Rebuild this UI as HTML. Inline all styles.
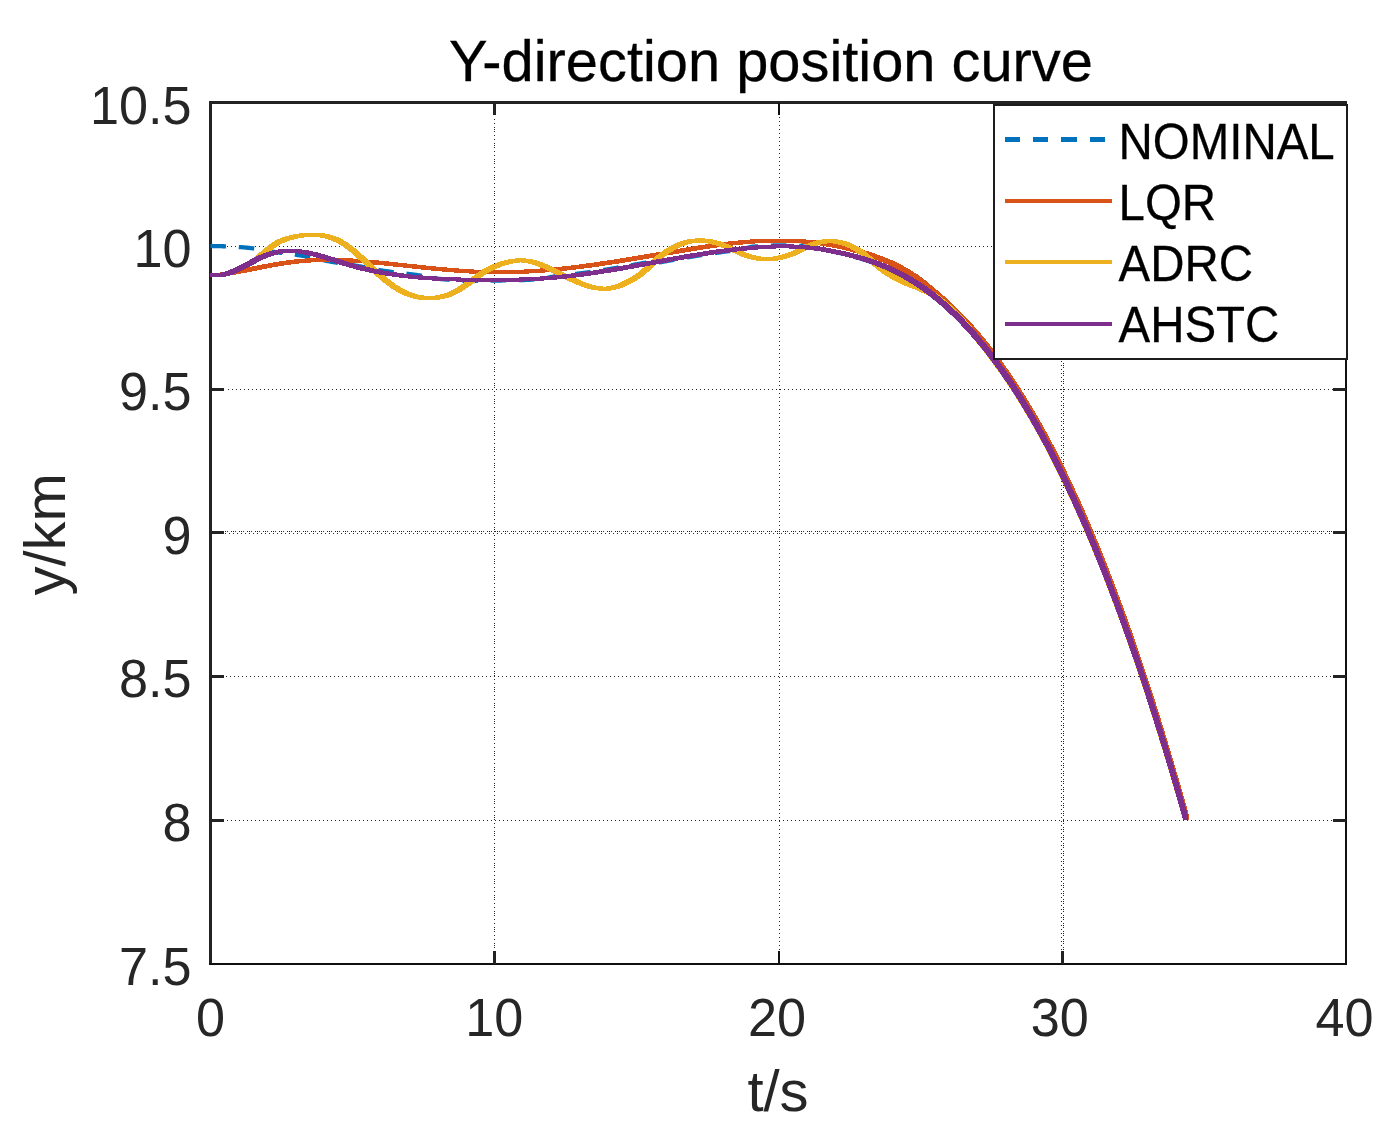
<!DOCTYPE html>
<html lang="en"><head><meta charset="utf-8"><title>Y-direction position curve</title>
<style>
html,body{margin:0;padding:0;background:#fff;}
body{width:1389px;height:1137px;overflow:hidden;}
svg{display:block;}
text{font-family:"Liberation Sans",Arial,Helvetica,sans-serif;}
.tk{fill:#262626;font-size:53px;}
.lb{fill:#262626;font-size:58px;}
.tt{fill:#000;font-size:58px;stroke:#000;stroke-width:0.3px;}
.lg{fill:#000;font-size:47.7px;stroke:#000;stroke-width:0.25px;}
.gd{stroke:#262626;stroke-width:1;fill:none;shape-rendering:crispEdges;}
</style></head><body>
<svg width="1389" height="1137" viewBox="0 0 1389 1137">
<rect x="0" y="0" width="1389" height="1137" fill="#fff"/>
<defs><clipPath id="ax"><rect x="210" y="101" width="1137" height="864"/></clipPath></defs>
<g><line class="gd" x1="227" y1="246.5" x2="1345" y2="246.5" stroke-dasharray="1 3"/><line class="gd" x1="228" y1="389.5" x2="1345" y2="389.5" stroke-dasharray="1 3"/><line class="gd" x1="226" y1="676.5" x2="1345" y2="676.5" stroke-dasharray="1 3"/><line class="gd" x1="227" y1="820.5" x2="1345" y2="820.5" stroke-dasharray="1 3"/><line class="gd" x1="223" y1="531.5" x2="1345" y2="531.5" stroke-dasharray="1 1 1 1 1 3"/><line class="gd" x1="225" y1="533.5" x2="1345" y2="533.5" stroke-dasharray="1 3"/><line class="gd" x1="494.5" y1="119" x2="494.5" y2="951" stroke-dasharray="1 3"/><line class="gd" x1="494.5" y1="129" x2="494.5" y2="951" stroke-dasharray="1 15"/><line class="gd" x1="779.5" y1="117" x2="779.5" y2="951" stroke-dasharray="1 3"/><line class="gd" x1="1061.5" y1="361" x2="1061.5" y2="951" stroke-dasharray="1 3"/><line class="gd" x1="1063.5" y1="363" x2="1063.5" y2="951" stroke-dasharray="1 1 1 1 1 3"/></g>
<g shape-rendering="crispEdges"><rect x="209" y="101" width="3" height="864" fill="#232323"/><rect x="209" y="101" width="1138" height="3" fill="#232323"/><rect x="1345" y="101" width="2" height="864" fill="#101010"/><rect x="209" y="963" width="1138" height="2" fill="#101010"/><rect x="493" y="951" width="3" height="13" fill="#232323"/><rect x="493" y="103" width="3" height="12" fill="#232323"/><rect x="778" y="951" width="2" height="13" fill="#101010"/><rect x="778" y="103" width="2" height="12" fill="#101010"/><rect x="1061" y="951" width="3" height="13" fill="#232323"/><rect x="1061" y="103" width="3" height="12" fill="#232323"/><rect x="211" y="245" width="13" height="3" fill="#232323"/><rect x="1333" y="245" width="13" height="3" fill="#232323"/><rect x="211" y="388" width="13" height="3" fill="#232323"/><rect x="1333" y="388" width="13" height="3" fill="#232323"/><rect x="211" y="531" width="13" height="3" fill="#232323"/><rect x="1333" y="531" width="13" height="3" fill="#232323"/><rect x="211" y="675" width="13" height="3" fill="#232323"/><rect x="1333" y="675" width="13" height="3" fill="#232323"/><rect x="211" y="819" width="13" height="3" fill="#232323"/><rect x="1333" y="819" width="13" height="3" fill="#232323"/></g>
<g clip-path="url(#ax)"><path d="M210.5 246L211.5 246.01L212.5 246.01L213.5 246.03L214.5 246.04L215.5 246.06L216.5 246.08L217.5 246.1L218.5 246.12L219.5 246.14L220.5 246.17L221.5 246.2L222.5 246.23L223.5 246.26L224.5 246.28L225.5 246.32L226.5 246.35L227.5 246.39L228.5 246.43L229.5 246.47L230.5 246.52L231.5 246.57L232.5 246.62L233.5 246.68L234.5 246.74L235.5 246.8L236.5 246.87L237.5 246.94L238.5 247.01L239.5 247.08L240.5 247.15L241.5 247.23L242.5 247.31L243.5 247.39L244.5 247.47L245.5 247.56L246.5 247.64L247.5 247.74L248.5 247.84L249.5 247.96L250.5 248.08L251.5 248.2L252.5 248.34L253.5 248.48L254.5 248.62L255.5 248.78L256.5 248.93L257.5 249.09L258.5 249.25L259.5 249.42L260.5 249.59L261.5 249.76L262.5 249.93L263.5 250.11L264.5 250.28L265.5 250.45L266.5 250.63L267.5 250.8L268.5 250.97L269.5 251.14L270.5 251.3L271.5 251.47L272.5 251.62L273.5 251.78L274.5 251.93L275.5 252.07L276.5 252.21L277.5 252.35L278.5 252.49L279.5 252.62L280.5 252.75L281.5 252.88L282.5 253.01L283.5 253.14L284.5 253.27L285.5 253.4L286.5 253.52L287.5 253.65L288.5 253.78L289.5 253.91L290.5 254.04L291.5 254.17L292.5 254.3L293.5 254.44L294.5 254.57L295.5 254.71L296.5 254.86L297.5 255L298.5 255.15L299.5 255.3L300.5 255.46L301.5 255.62L302.5 255.78L303.5 255.96L304.5 256.14L305.5 256.32L306.5 256.51L307.5 256.71L308.5 256.91L309.5 257.12L310.5 257.33L311.5 257.55L312.5 257.77L313.5 257.99L314.5 258.21L315.5 258.43L316.5 258.66L317.5 258.88L318.5 259.1L319.5 259.33L320.5 259.55L321.5 259.77L322.5 259.99L323.5 260.2L324.5 260.42L325.5 260.62L326.5 260.83L327.5 261.03L328.5 261.22L329.5 261.41L330.5 261.59L331.5 261.77L332.5 261.94L333.5 262.11L334.5 262.28L335.5 262.45L336.5 262.61L337.5 262.77L338.5 262.93L339.5 263.09L340.5 263.24L341.5 263.4L342.5 263.55L343.5 263.7L344.5 263.86L345.5 264.01L346.5 264.16L347.5 264.32L348.5 264.47L349.5 264.62L350.5 264.78L351.5 264.94L352.5 265.09L353.5 265.25L354.5 265.41L355.5 265.58L356.5 265.75L357.5 265.91L358.5 266.09L359.5 266.26L360.5 266.44L361.5 266.63L362.5 266.81L363.5 267L364.5 267.2L365.5 267.39L366.5 267.59L367.5 267.78L368.5 267.98L369.5 268.18L370.5 268.38L371.5 268.58L372.5 268.77L373.5 268.97L374.5 269.16L375.5 269.36L376.5 269.54L377.5 269.73L378.5 269.91L379.5 270.09L380.5 270.27L381.5 270.44L382.5 270.61L383.5 270.77L384.5 270.92L385.5 271.07L386.5 271.22L387.5 271.36L388.5 271.5L389.5 271.63L390.5 271.76L391.5 271.89L392.5 272.01L393.5 272.14L394.5 272.26L395.5 272.38L396.5 272.49L397.5 272.61L398.5 272.72L399.5 272.84L400.5 272.96L401.5 273.07L402.5 273.19L403.5 273.3L404.5 273.42L405.5 273.54L406.5 273.66L407.5 273.78L408.5 273.9L409.5 274.03L410.5 274.16L411.5 274.29L412.5 274.43L413.5 274.57L414.5 274.71L415.5 274.86L416.5 275L417.5 275.15L418.5 275.3L419.5 275.45L420.5 275.6L421.5 275.75L422.5 275.91L423.5 276.06L424.5 276.22L425.5 276.38L426.5 276.54L427.5 276.7L428.5 276.86L429.5 277.03L430.5 277.19L431.5 277.36L432.5 277.53L433.5 277.7L434.5 277.87L435.5 278.04L436.5 278.21L437.5 278.72L438.5 278.82L439.5 278.91L440.5 279.01L441.5 279.1L442.5 279.19L443.5 279.27L444.5 279.36L445.5 279.45L446.5 279.53L447.5 279.61L448.5 279.69L449.5 279.77L450.5 279.85L451.5 279.93L452.5 280L453.5 280.08L454.5 280.15L455.5 280.22L456.5 280.29L457.5 280.36L458.5 280.43L459.5 280.5L460.5 280.56L461.5 280.63L462.5 280.69L463.5 280.76L464.5 280.82L465.5 280.88L466.5 280.94L467.5 281L468.5 281.03L469.5 281.02L470.5 281.01L471.5 281.01L472.5 281L473.5 280.99L474.5 280.98L475.5 280.97L476.5 280.96L477.5 280.94L478.5 280.93L479.5 280.92L480.5 280.9L481.5 280.89L482.5 280.87L483.5 280.86L484.5 280.84L485.5 280.83L486.5 280.81L487.5 280.79L488.5 280.77L489.5 280.75L490.5 280.73L491.5 280.71L492.5 280.69L493.5 280.66L494.5 280.64L495.5 280.62L496.5 280.59L497.5 280.56L498.5 280.54L499.5 280.51L500.5 280.49L501.5 280.48L502.5 280.47L503.5 280.46L504.5 280.45L505.5 280.44L506.5 280.43L507.5 280.42L508.5 280.4L509.5 280.38L510.5 280.37L511.5 280.35L512.5 280.33L513.5 280.31L514.5 280.28L515.5 280.26L516.5 280.24L517.5 280.21L518.5 280.18L519.5 280.16L520.5 280.13L521.5 280.09L522.5 280.06L523.5 280.03L524.5 279.99L525.5 279.95L526.5 279.92L527.5 279.88L528.5 279.84L529.5 279.79L530.5 279.73L531.5 279.64L532.5 279.55L533.5 279.46L534.5 279.37L535.5 279.28L536.5 279.19L537.5 279.09L538.5 278.99L539.5 278.89L540.5 278.79L541.5 278.69L542.5 278.59L543.5 278.48L544.5 278.37L545.5 278.22L546.5 278.01L547.5 277.81L548.5 277.6L549.5 277.4L550.5 277.19L551.5 276.97L552.5 276.76L553.5 276.54L554.5 276.33L555.5 276.17L556.5 276.08L557.5 275.99L558.5 275.89L559.5 275.79L560.5 275.7L561.5 275.59L562.5 275.49L563.5 275.39L564.5 275.28L565.5 275.17L566.5 275.06L567.5 274.95L568.5 274.84L569.5 274.73L570.5 274.61L571.5 274.49L572.5 274.37L573.5 274.25L574.5 274.13L575.5 274L576.5 273.88L577.5 273.75L578.5 273.62L579.5 273.49L580.5 273.36L581.5 273.23L582.5 273.09L583.5 272.96L584.5 272.82L585.5 272.68L586.5 272.54L587.5 272.4L588.5 272.26L589.5 272.12L590.5 271.97L591.5 271.82L592.5 271.68L593.5 271.53L594.5 271.38L595.5 271.23L596.5 271.08L597.5 270.92L598.5 270.77L599.5 270.61L600.5 270.46L601.5 270.3L602.5 270.14L603.5 269.98L604.5 269.82L605.5 269.66L606.5 269.5L607.5 269.34L608.5 269.17L609.5 269.01L610.5 268.84L611.5 268.67L612.5 268.51L613.5 268.34L614.5 268.17L615.5 268L616.5 267.83L617.5 267.66L618.5 267.49L619.5 267.31L620.5 267.14L621.5 266.97L622.5 266.79L623.5 266.62L624.5 266.44L625.5 266.27L626.5 266.09L627.5 265.91L628.5 265.73L629.5 265.56L630.5 265.38L631.5 265.2L632.5 265.02L633.5 264.84L634.5 264.66L635.5 264.48L636.5 264.3L637.5 264.12L638.5 263.93L639.5 263.75L640.5 263.57L641.5 263.39L642.5 263.21L643.5 263.02L644.5 262.84L645.5 262.66L646.5 262.47L647.5 262.29L648.5 262.11L649.5 261.92L650.5 261.85L651.5 261.9L652.5 261.95L653.5 261.99L654.5 262.04L655.5 262.09L656.5 262.13L657.5 262.18L658.5 262.23L659.5 262.27L660.5 262.2L661.5 262.02L662.5 261.84L663.5 261.66L664.5 261.47L665.5 261.29L666.5 261.11L667.5 260.93L668.5 260.75L669.5 260.57L670.5 260.39L671.5 260.21L672.5 260.03L673.5 259.85L674.5 259.67L675.5 259.49L676.5 259.31L677.5 259.13L678.5 258.96L679.5 258.78L680.5 258.61L681.5 258.43L682.5 258.26L683.5 258.08L684.5 257.91L685.5 257.73L686.5 257.56L687.5 257.39L688.5 257.22L689.5 257.05L690.5 256.88L691.5 256.71L692.5 256.55L693.5 256.38L694.5 256.21L695.5 256.05L696.5 255.88L697.5 255.72L698.5 255.56L699.5 255.4L700.5 255.23L701.5 255.08L702.5 254.92L703.5 254.76L704.5 254.6L705.5 254.45L706.5 254.29L707.5 254.14L708.5 253.99L709.5 253.84L710.5 253.69L711.5 253.54L712.5 253.39L713.5 253.24L714.5 253.1L715.5 252.95L716.5 252.81L717.5 252.67L718.5 252.53L719.5 252.39L720.5 252.25L721.5 252.12L722.5 251.98L723.5 251.85L724.5 251.72L725.5 251.59L726.5 251.46L727.5 251.33L728.5 251.21L729.5 251.08L730.5 250.96L731.5 250.84L732.5 250.72L733.5 250.6L734.5 250.49L735.5 250.37L736.5 250.26L737.5 250.15L738.5 250.04L739.5 249.93L740.5 249.74L741.5 249.47L742.5 249.2L743.5 248.93L744.5 248.67L745.5 248.41L746.5 248.14L747.5 247.88L748.5 247.63L749.5 247.37L750.5 247.12L751.5 246.87L752.5 246.7L753.5 246.62L754.5 246.54L755.5 246.46L756.5 246.39L757.5 246.32L758.5 246.25L759.5 246.18L760.5 246.12L761.5 246.05L762.5 245.99L763.5 245.94L764.5 245.88L765.5 245.83L766.5 245.78L767.5 245.73L768.5 245.69L769.5 245.65L770.5 245.61L771.5 245.57L772.5 245.54L773.5 245.51L774.5 245.48L775.5 245.46L776.5 245.43L777.5 245.42L778.5 245.4L779.5 245.39L780.5 245.38L781.5 245.37L782.5 245.37L783.5 245.37L784.5 245.38L785.5 245.39L786.5 245.4L787.5 245.41L788.5 245.43L789.5 245.45L790.5 245.48L791.5 245.5L792.5 245.54L793.5 245.57L794.5 245.61L795.5 245.65L796.5 245.7L797.5 245.75L798.5 245.81L799.5 245.87L800.5 245.96L801.5 246.1L802.5 246.23L803.5 246.38L804.5 246.52L805.5 246.67L806.5 246.82L807.5 246.98L808.5 247.14L809.5 247.31L810.5 247.48L811.5 247.66L812.5 247.84L813.5 248.02L814.5 248.21L815.5 248.38L816.5 248.52L817.5 248.67L818.5 248.82L819.5 248.98L820.5 249.14L821.5 249.3L822.5 249.47L823.5 249.65L824.5 249.82L825.5 250.01L826.5 250.19L827.5 250.38L828.5 250.58L829.5 250.77L830.5 250.98L831.5 251.18L832.5 251.39L833.5 251.6L834.5 251.82L835.5 252.04L836.5 252.26L837.5 252.49L838.5 252.72L839.5 252.95L840.5 253.19L841.5 253.43L842.5 253.67L843.5 253.92L844.5 254.17L845.5 254.42L846.5 254.67L847.5 254.93L848.5 255.19L849.5 255.45L850.5 255.72L851.5 255.98L852.5 256.25L853.5 256.53L854.5 256.8L855.5 257.08L856.5 257.36L857.5 257.65L858.5 257.94L859.5 258.23L860.5 258.52L861.5 258.82L862.5 259.13L863.5 259.44L864.5 259.75L865.5 260.06L866.5 260.38L867.5 260.71L868.5 261.04L869.5 261.38L870.5 261.72L871.5 262.06L872.5 262.42L873.5 262.77L874.5 263.14L875.5 263.5L876.5 263.88L877.5 264.26L878.5 264.65L879.5 265.04L880.5 265.44L881.5 265.85L882.5 266.26L883.5 266.68L884.5 267.11L885.5 267.54L886.5 267.99L887.5 268.43L888.5 268.89L889.5 269.35L890.5 269.82L891.5 270.3L892.5 270.78L893.5 271.27L894.5 271.76L895.5 272.27L896.5 272.78L897.5 273.3L898.5 273.82L899.5 274.36L900.5 274.89L901.5 275.43L902.5 275.97L903.5 276.53L904.5 277.08L905.5 277.65L906.5 278.23L907.5 278.81L908.5 279.4L909.5 279.99L910.5 280.6L911.5 281.21L912.5 281.83L913.5 282.45L914.5 283.09L915.5 283.73L916.5 284.38L917.5 285.04L918.5 285.7L919.5 286.37L920.5 287.06L921.5 287.74L922.5 288.44L923.5 289.14L924.5 289.86L925.5 290.58L926.5 291.31L927.5 292.04L928.5 292.79L929.5 293.54L930.5 294.3L931.5 295.07L932.5 295.84L933.5 296.63L934.5 297.42L935.5 298.22L936.5 299.03L937.5 299.85L938.5 300.68L939.5 301.51L940.5 302.35L941.5 303.2L942.5 304.06L943.5 304.93L944.5 305.81L945.5 306.69L946.5 307.59L947.5 308.49L948.5 309.4L949.5 310.32L950.5 311.25L951.5 312.18L952.5 313.13L953.5 314.08L954.5 315.05L955.5 316.02L956.5 317L957.5 317.99L958.5 318.98L959.5 319.99L960.5 321.01L961.5 322.03L962.5 323.07L963.5 324.11L964.5 325.16L965.5 326.22L966.5 327.29L967.5 328.37L968.5 329.46L969.5 330.56L970.5 331.66L971.5 332.78L972.5 333.91L973.5 335.04L974.5 336.18L975.5 337.34L976.5 338.5L977.5 339.67L978.5 340.85L979.5 342.04L980.5 343.25L981.5 344.46L982.5 345.67L983.5 346.9L984.5 348.14L985.5 349.39L986.5 350.65L987.5 351.92L988.5 353.19L989.5 354.48L990.5 355.78L991.5 357.08L992.5 358.4L993.5 359.73L994.5 361.06L995.5 362.41L996.5 363.77L997.5 365.13L998.5 366.51L999.5 367.89L1000.5 369.29L1001.5 370.7L1002.5 372.11L1003.5 373.54L1004.5 374.98L1005.5 376.42L1006.5 377.88L1007.5 379.35L1008.5 380.82L1009.5 382.31L1010.5 383.81L1011.5 385.32L1012.5 386.84L1013.5 388.36L1014.5 389.9L1015.5 391.45L1016.5 393.01L1017.5 394.58L1018.5 396.16L1019.5 397.76L1020.5 399.36L1021.5 400.97L1022.5 402.59L1023.5 404.22L1024.5 405.87L1025.5 407.52L1026.5 409.19L1027.5 410.86L1028.5 412.55L1029.5 414.24L1030.5 415.95L1031.5 417.67L1032.5 419.39L1033.5 421.13L1034.5 422.88L1035.5 424.64L1036.5 426.41L1037.5 428.19L1038.5 429.98L1039.5 431.79L1040.5 433.6L1041.5 435.43L1042.5 437.26L1043.5 439.11L1044.5 440.96L1045.5 442.83L1046.5 444.71L1047.5 446.6L1048.5 448.5L1049.5 450.41L1050.5 452.33L1051.5 454.26L1052.5 456.21L1053.5 458.16L1054.5 460.13L1055.5 462.1L1056.5 464.09L1057.5 466.09L1058.5 468.1L1059.5 470.12L1060.5 472.15L1061.5 474.2L1062.5 476.25L1063.5 478.32L1064.5 480.39L1065.5 482.48L1066.5 484.58L1067.5 486.69L1068.5 488.81L1069.5 490.94L1070.5 493.09L1071.5 495.24L1072.5 497.41L1073.5 499.59L1074.5 501.77L1075.5 503.97L1076.5 506.19L1077.5 508.41L1078.5 510.64L1079.5 512.89L1080.5 515.15L1081.5 517.41L1082.5 519.69L1083.5 521.99L1084.5 524.29L1085.5 526.6L1086.5 528.93L1087.5 531.27L1088.5 533.61L1089.5 535.97L1090.5 538.35L1091.5 540.73L1092.5 543.13L1093.5 545.53L1094.5 547.95L1095.5 550.38L1096.5 552.82L1097.5 555.28L1098.5 557.74L1099.5 560.22L1100.5 562.71L1101.5 565.21L1102.5 567.72L1103.5 570.24L1104.5 572.78L1105.5 575.33L1106.5 577.89L1107.5 580.46L1108.5 583.04L1109.5 585.64L1110.5 588.24L1111.5 590.86L1112.5 593.49L1113.5 596.13L1114.5 598.79L1115.5 601.46L1116.5 604.13L1117.5 606.83L1118.5 609.53L1119.5 612.24L1120.5 614.97L1121.5 617.71L1122.5 620.46L1123.5 623.22L1124.5 626L1125.5 628.78L1126.5 631.58L1127.5 634.4L1128.5 637.22L1129.5 640.06L1130.5 642.9L1131.5 645.76L1132.5 648.64L1133.5 651.52L1134.5 654.42L1135.5 657.33L1136.5 660.25L1137.5 663.19L1138.5 666.13L1139.5 669.09L1140.5 672.06L1141.5 675.05L1142.5 678.04L1143.5 681.05L1144.5 684.07L1145.5 687.11L1146.5 690.15L1147.5 693.21L1148.5 696.28L1149.5 699.37L1150.5 702.46L1151.5 705.57L1152.5 708.69L1153.5 711.83L1154.5 714.97L1155.5 718.13L1156.5 721.3L1157.5 724.49L1158.5 727.69L1159.5 730.9L1160.5 734.12L1161.5 737.35L1162.5 740.6L1163.5 743.86L1164.5 747.14L1165.5 750.42L1166.5 753.72L1167.5 757.04L1168.5 760.36L1169.5 763.7L1170.5 767.05L1171.5 770.41L1172.5 773.79L1173.5 777.18L1174.5 780.58L1175.5 784L1176.5 787.42L1177.5 790.87L1178.5 794.32L1179.5 797.79L1180.5 801.27L1181.5 804.76L1182.5 808.27L1183.5 811.79L1184.5 815.32L1185.5 818.87L1185.75 819.76" fill="none" stroke="#0072BD" stroke-width="4.3" stroke-dasharray="15.5 12.8" stroke-linejoin="round"/><path d="M208 272.85L213 272.85L215.5 273.21L217.25 272.97L235 269.78L268 263.41L278.5 261.63L288 260.25L296.5 259.25L304.75 258.54L313.25 258.07L322 257.85L333.75 257.84L343 258.04L353.25 258.51L364.5 259.26L374.25 260.08L385.5 261.16L426.25 265.5L442.5 267.13L458.75 268.52L473.25 269.47L486.5 270.03L499.5 270.24L515.25 269.93L531.25 269.17L545.5 268.14L560.25 266.75L575.5 264.98L591.75 262.81L607.75 260.43L625.75 257.57L690.75 246.63L705.5 244.38L718.75 242.58L733.25 240.92L747 239.71L760 238.95L772.75 238.61L784 238.6L792 238.75L800.5 239.13L809 239.73L817.5 240.58L825.75 241.65L834 242.98L842 244.52L850.25 246.37L858.5 248.5L866.75 250.91L874.75 253.54L883.75 256.85L890.75 259.68L897.25 262.65L903 265.67L908 268.53L912.75 271.42L917.75 274.64L922.5 277.87L937.5 290.36L942.5 294.67L953.5 304.7L958.25 309.29L962.75 313.82L967.5 318.8L972 323.71L977 329.34L982 335.21L986.75 340.99L991.5 347L1000.25 358.67L1008.75 370.75L1019.5 386.86L1028.25 400.76L1037 415.47L1045.75 430.99L1054 446.4L1062.75 463.67L1071.5 481.8L1080.25 500.8L1089 520.67L1097.5 540.87L1106 561.94L1114.5 583.88L1122.75 606.02L1131.25 629.7L1139.75 654.28L1147.75 678.28L1156 703.92L1164.5 731.25L1172.75 758.68L1181 787.01L1189.25 816.24L1189.25 820.24L1184.25 820.24L1174.5 785.79L1164.75 752.6L1155 720.66L1145.25 689.96L1136 661.97L1126 632.99L1116.25 605.93L1106.25 579.39L1098.75 560.28L1091.25 541.84L1084 524.67L1076.25 507.02L1068.75 490.6L1061 474.3L1053.25 458.68L1045.75 444.23L1037.5 429.13L1029 414.34L1020.75 400.71L1012.25 387.41L1002 372.2L993.25 359.94L988.75 353.93L984.5 348.44L980 342.84L975.25 337.13L970.5 331.63L965.5 326.05L961 321.21L956.25 316.29L951.75 311.82L947.25 307.52L936.25 297.57L922.25 285.76L917.5 281.87L912.5 278.47L907.5 275.26L902.5 272.24L897.5 269.4L892.25 266.65L886 263.79L879.5 261.14L871.25 258.07L863.75 255.55L856.25 253.27L848.5 251.17L840.75 249.32L833.25 247.76L825.5 246.39L817.75 245.24L810 244.31L802 243.57L793.75 243.03L785.25 242.7L777.5 242.61L764.75 242.96L751.75 243.73L738.25 244.92L723.75 246.58L710.5 248.38L695.75 250.63L630.5 261.61L612.5 264.47L596.5 266.84L580 269.05L564.75 270.8L550 272.18L535.75 273.2L519.5 273.95L503.75 274.24L493.25 274.23L485.25 274.12L476.75 273.86L468 273.46L453.25 272.48L436.75 271.06L420.75 269.45L382 265.31L363.25 263.56L353.25 262.81L344 262.28L335 261.95L327 261.85L317.25 262.11L307.75 262.69L298.5 263.58L288.75 264.84L280.75 266.08L271.75 267.64L239.25 273.92L221 277.15L218.5 277.36L212.5 277.36L210.25 277.19L208 276.85Z" fill="#D95319" shape-rendering="crispEdges"/><path d="M208 272.85L213 272.85L216 273.27L218.25 273.01L221 272.51L223.75 271.82L226.75 270.88L230 269.66L234 267.93L238.75 265.63L249.25 260.14L252.25 258.4L254.25 257.05L256 255.69L257.75 254.14L259.5 252.39L265 247.78L268.75 244.82L271 243.21L273.25 241.75L275.5 240.45L277.75 239.3L280.75 237.98L283.75 236.88L287 235.89L290.5 235.02L294.75 234.18L299 233.51L303 233.05L307 232.78L315.25 232.71L318.25 232.79L322.25 233.11L326 233.66L330 234.53L334 235.72L338 237.26L341.75 239.04L345 240.86L348.5 243.12L352 245.66L355.75 248.65L359.25 251.65L363.25 255.26L378.5 269.73L384.75 275.42L388 278.19L391.25 280.8L394.25 283.03L397.25 285.07L401 287.38L405 289.54L409 291.38L413 292.92L417 294.16L421 295.09L425 295.73L429.25 296.09L432 295.91L434.75 295.59L437.5 295.13L440 294.59L442.5 293.93L445 293.14L447.5 292.21L450 291.16L454.5 288.89L458.75 286.32L463.5 283.03L473.5 275.56L477.75 272.52L482.25 269.62L487 266.96L490 265.48L493.25 264.04L496.5 262.76L499.75 261.64L503.25 260.6L506.5 259.78L509.5 259.18L512.5 258.74L515 258.5L517.5 258.39L523.75 258.39L526.5 258.52L529.25 258.83L532 259.29L535 259.97L538 260.81L543.75 262.81L550.25 265.55L556.75 268.65L574.25 277.43L579.5 279.85L584.25 281.84L589.75 283.81L594.75 285.22L599.5 286.17L604 286.65L606.75 286.4L609.5 285.94L612.25 285.3L615.25 284.41L618.25 283.32L621.5 281.95L624.75 280.38L628 278.65L631.25 276.76L634 275.02L636.75 273.12L639.25 271.22L643.25 267.77L651.75 259.67L655.75 256.09L660.75 252.1L665.75 248.62L668.5 246.93L671.5 245.26L674.5 243.77L677.5 242.47L680.5 241.35L683.5 240.42L686.5 239.66L689.5 239.09L692.5 238.69L695.5 238.48L704.25 238.46L707 238.62L709.75 238.92L712.5 239.36L715.25 239.94L720.75 241.46L726.25 243.45L731.25 245.61L743.75 251.44L747.25 252.89L750.5 254.08L754.5 255.28L758.5 256.18L762.5 256.79L766.75 257.13L771 256.8L775.25 256.17L779.5 255.25L784 253.96L787.75 252.66L791.75 251.03L805.25 244.65L810.5 242.42L813.5 241.35L816.25 240.56L819 239.94L821.75 239.5L826 239.17L833.25 239.16L836.75 239.36L840.5 239.87L844.75 240.81L849 242.15L853 243.78L857 245.79L861.25 248.36L865.5 251.41L869.75 254.89L878.25 262.38L882 265.54L886.25 268.77L890.75 271.8L894.25 273.91L897.75 275.86L901.75 277.92L906.25 280.08L914.5 283.89L917 284.52L919.5 285.45L922.5 286.98L926.75 288.66L930 290.08L937.5 293.76L945 299.74L952.5 306.19L957.5 311.1L962.25 315.97L967.5 321.58L969.75 324.21L974.5 329.92L984 341.66L988.5 347.45L997.25 359.03L1002 365.5L1006.75 372.21L1011.5 379.14L1016 385.93L1025.25 400.53L1034.5 416.03L1039.5 424.78L1044.5 433.81L1049.5 443.1L1054.25 452.18L1059.25 462.02L1064.25 472.14L1074 492.66L1083.75 514.25L1093.5 536.93L1103.25 560.72L1113 585.62L1122.75 611.65L1132.5 638.84L1142.25 667.18L1151.75 695.93L1162 728.22L1172 761.02L1178.5 783.02L1184.75 804.69L1187.5 814.39L1187.75 816.28L1187.75 820.28L1182.75 820.28L1182.5 818.39L1177.5 800.83L1170.75 777.64L1164 755.04L1152.75 718.67L1147.25 701.48L1141.5 683.9L1136 667.48L1130.5 651.43L1125 635.76L1119.5 620.45L1114 605.51L1108.5 590.93L1103 576.71L1097.5 562.85L1088.75 541.53L1079.75 520.53L1071 501L1062 481.82L1053 463.54L1044.25 446.63L1035.25 430.12L1026 414.06L1017.25 399.7L1008.25 385.76L999.5 373L990.5 360.7L983 350.8L978.25 344.71L969.25 333.61L964.25 327.62L962.25 325.3L956.75 319.44L952.25 314.85L947.5 310.19L940 303.74L932.5 297.76L925 294.08L921.75 292.66L917.5 290.98L914.5 289.45L912 288.52L909.5 287.89L901.25 284.08L896.75 281.92L892.75 279.86L889.25 277.91L885.75 275.8L881.25 272.77L877 269.54L873.25 266.38L864.75 258.89L860.5 255.41L856.25 252.36L852 249.79L848.75 248.12L845.5 246.71L842.25 245.55L839 244.62L835.25 243.83L831.5 243.34L829.75 243.22L826.75 243.5L824 243.94L821.5 244.49L818.75 245.27L816 246.23L810.5 248.54L800 253.56L795.5 255.56L790.5 257.47L785.75 258.92L780.25 260.17L777.5 260.61L774.75 260.93L770.25 261.17L761.75 261.13L757.5 260.79L753.5 260.18L749.5 259.28L745.5 258.08L742.25 256.89L738.75 255.44L726.5 249.73L721.75 247.66L717 245.87L712.25 244.44L709.5 243.77L706.75 243.23L704 242.83L701.25 242.56L700 242.5L698.5 242.6L694.25 243.13L691.25 243.72L688.25 244.49L685.25 245.44L682.5 246.47L679.5 247.77L676.5 249.26L673.5 250.93L670.75 252.62L665.75 256.1L660.75 260.09L656.75 263.67L648.25 271.77L644 275.42L641.5 277.3L638.75 279.19L636 280.91L632.75 282.79L629.25 284.63L626 286.17L622.75 287.52L619.75 288.57L616.75 289.43L614 290.04L611.25 290.46L608.25 290.69L600.75 290.72L596.5 290.43L594 290.09L591.25 289.56L588.5 288.91L585.75 288.12L579.75 286.03L573 283.18L566.25 279.97L548 270.83L542.5 268.34L537.75 266.43L534.75 265.37L531.75 264.44L529 263.73L526.25 263.15L523.5 262.73L520.75 262.47L517.5 262.74L514.5 263.18L511.5 263.78L508.25 264.6L504.75 265.64L501.5 266.76L498.5 267.93L495.25 269.36L492.25 270.83L487.5 273.47L483 276.35L478.75 279.38L468.25 287.21L463.25 290.64L460.75 292.18L458.25 293.57L455.75 294.81L453 296.01L450 297.14L446.75 298.14L443.5 298.93L440.25 299.51L437.25 299.88L434.25 300.1L425.5 300.14L421.75 299.92L418.25 299.49L414.75 298.83L411.25 297.95L407.5 296.75L404 295.38L400.5 293.79L397 291.95L393.5 289.87L390 287.56L386.5 284.99L382.75 281.99L379.25 278.98L375.25 275.36L360.5 261.35L354.25 255.65L351 252.86L347.75 250.24L344.75 248L342 246.11L338.5 243.99L335 242.17L331.25 240.54L327.5 239.24L323.75 238.22L319.75 237.45L315.75 236.96L312 236.78L308 237.05L304 237.51L299.75 238.18L295.5 239.02L292 239.89L288.75 240.88L285.75 241.98L282.75 243.3L280.5 244.45L278.25 245.75L276 247.21L273.75 248.82L270 251.78L264.5 256.39L262.75 258.14L261 259.69L259.25 261.05L257.25 262.4L254.25 264.14L243.25 269.88L238.25 272.27L234 274.05L230.75 275.21L227.75 276.09L224.75 276.76L222 277.17L219 277.36L212.75 277.36L210.25 277.19L208 276.85Z" fill="#EDB120" shape-rendering="crispEdges"/><path d="M208 272.85L213 272.85L215 273.16L216.25 273.25L218.25 273.01L220.5 272.62L222.75 272.09L225.25 271.37L230 269.66L235 267.46L240.25 264.86L255.25 257.03L259.75 254.9L264 253.12L268.75 251.49L273.75 250.2L278.75 249.34L283.75 248.9L292.75 248.81L297.75 249.01L304 249.69L310.75 250.88L316.75 252.25L323.25 254.01L330.25 256.11L350.75 262.58L357.5 264.5L364.5 266.32L373.25 268.34L382.25 270.15L391.5 271.76L401 273.15L411.25 274.4L421.75 275.43L432.75 276.27L444.25 276.92L456.5 277.4L469.75 277.72L486.75 277.9L499.75 277.88L518.5 277.51L535.75 276.75L543.75 276.23L551.75 275.58L568 273.91L586 271.56L605.75 268.51L626.5 264.95L667.5 257.48L684.5 254.48L702.5 251.52L718.5 249.19L728 247.96L737.25 246.9L746 246.04L754.5 245.35L762.5 244.85L770 244.54L777 244.39L785.5 244.37L793.5 244.49L801.5 244.84L809.25 245.41L816.75 246.21L824 247.23L831.75 248.56L839.75 250.17L848.25 252.12L857.5 254.47L865.5 256.72L872.75 258.98L879.75 261.43L886.5 264.08L893 266.93L899.5 270.07L906 273.52L911 276.38L915.75 279.27L920.75 282.5L925.5 285.75L930.5 289.36L935.25 292.98L940 296.78L944.75 300.77L949.5 304.95L954.25 309.33L959 313.9L963.5 318.41L968.25 323.37L972.75 328.26L977.5 333.63L982 338.91L986.5 344.37L991 350.04L995.5 355.9L1000 361.96L1009 374.69L1017.75 387.86L1026.5 401.83L1035.25 416.6L1044 432.18L1052.75 448.59L1061.5 465.83L1070.25 483.93L1079 502.88L1087.5 522.12L1096 542.19L1104.5 563.11L1113 584.87L1121.5 607.5L1130 631L1138.25 654.65L1146.75 679.89L1155 705.25L1163.5 732.28L1171.75 759.39L1180 787.38L1188.25 816.26L1188.25 820.26L1183.25 820.26L1173.5 786.23L1163.75 753.43L1154 721.86L1144 690.72L1134.25 661.57L1124.25 632.89L1114.25 605.43L1104.25 579.17L1096.75 560.25L1089.25 541.99L1081.75 524.39L1074 506.88L1066.5 490.58L1058.75 474.4L1051 458.89L1043.25 444.04L1034.75 428.51L1026.25 413.74L1017.75 399.75L1009 386.12L1000.5 373.64L991.75 361.56L983 350.24L974.25 339.66L965.5 329.8L961 325L956.5 320.38L952 315.95L947.5 311.69L943 307.61L938.25 303.49L933.75 299.77L929 296.01L924.25 292.44L919.5 289.05L914.75 285.84L910 282.8L905.25 279.94L900.5 277.24L894.25 273.95L887.75 270.82L881.5 268.08L875 265.52L868.25 263.15L861 260.86L853.25 258.67L844.5 256.42L836.25 254.5L828.25 252.84L820.5 251.46L813.25 250.4L806 249.58L798.5 248.96L790.75 248.56L782.75 248.38L776.5 248.49L770 248.73L756.5 249.58L741.75 250.96L726.25 252.82L710.5 255.06L693 257.88L675 261.03L624.5 270.18L609 272.8L595 274.98L579 277.18L564.25 278.87L550.25 280.12L535.75 281.02L520.25 281.6L503.5 281.89L480.5 281.89L460 281.63L444.5 281.15L430.25 280.43L416.75 279.43L404 278.14L394.25 276.91L384.75 275.47L375.75 273.87L366.75 272.01L357.75 269.88L348.75 267.45L341.25 265.2L322.25 259.19L316.5 257.51L311.5 256.19L305.5 254.82L300 253.84L294.75 253.18L289.75 252.85L284.5 253.25L279.5 254.04L274.5 255.27L269.5 256.93L265.25 258.68L260.5 260.91L245 268.99L239.5 271.69L234 274.05L229.25 275.68L226.75 276.34L224.5 276.81L222.25 277.14L220.25 277.32L212.25 277.34L210 277.16L208 276.85Z" fill="#7E2F8E" shape-rendering="crispEdges"/></g>
<g shape-rendering="crispEdges"><rect x="993" y="104" width="355" height="256" fill="#1c1c1c"/><rect x="995" y="106" width="351" height="252" fill="#fff"/><rect x="993" y="101" width="354" height="3" fill="#232323"/><path d="M1005 139.5H1020M1033 139.5H1048M1061 139.5H1077M1090 139.5H1105" stroke="#0072BD" stroke-width="5" fill="none"/><rect x="1005" y="199" width="107" height="4" fill="#D95319"/><rect x="1005" y="260" width="107" height="4" fill="#EDB120"/><rect x="1005" y="322" width="107" height="4" fill="#7E2F8E"/></g>
<text class="lg" transform="translate(1118.5 158.8) scale(0.995 1.045)" text-anchor="start">NOMINAL</text>
<text class="lg" transform="translate(1118.5 220.1) scale(0.995 1.045)" text-anchor="start">LQR</text>
<text class="lg" transform="translate(1118.5 280.8) scale(0.995 1.045)" text-anchor="start">ADRC</text>
<text class="lg" transform="translate(1118.5 342.0) scale(0.995 1.045)" text-anchor="start">AHSTC</text>
<text class="tt" transform="translate(771 80.5) scale(0.997 1)" text-anchor="middle">Y-direction position curve</text>
<text class="tk" transform="translate(191.5 124.1) scale(0.985 1.02)" text-anchor="end">10.5</text>
<text class="tk" transform="translate(191.5 267.3) scale(0.985 1.02)" text-anchor="end">10</text>
<text class="tk" transform="translate(191.5 410.3) scale(0.985 1.02)" text-anchor="end">9.5</text>
<text class="tk" transform="translate(191.5 554) scale(0.985 1.02)" text-anchor="end">9</text>
<text class="tk" transform="translate(191.5 697.2) scale(0.985 1.02)" text-anchor="end">8.5</text>
<text class="tk" transform="translate(191.5 841.2) scale(0.985 1.02)" text-anchor="end">8</text>
<text class="tk" transform="translate(191.5 984.5) scale(0.985 1.02)" text-anchor="end">7.5</text>
<text class="tk" transform="translate(210.5 1036) scale(0.985 1.02)" text-anchor="middle">0</text>
<text class="tk" transform="translate(494.2 1036) scale(0.985 1.02)" text-anchor="middle">10</text>
<text class="tk" transform="translate(777.0 1036) scale(0.985 1.02)" text-anchor="middle">20</text>
<text class="tk" transform="translate(1059.8 1036) scale(0.985 1.02)" text-anchor="middle">30</text>
<text class="tk" transform="translate(1344.6 1036) scale(0.985 1.02)" text-anchor="middle">40</text>
<text class="lb" transform="translate(778 1111)" text-anchor="middle">t/s</text>
<text class="lb" transform="translate(64.6 534.4) rotate(-90)" text-anchor="middle">y/km</text>
</svg></body></html>
